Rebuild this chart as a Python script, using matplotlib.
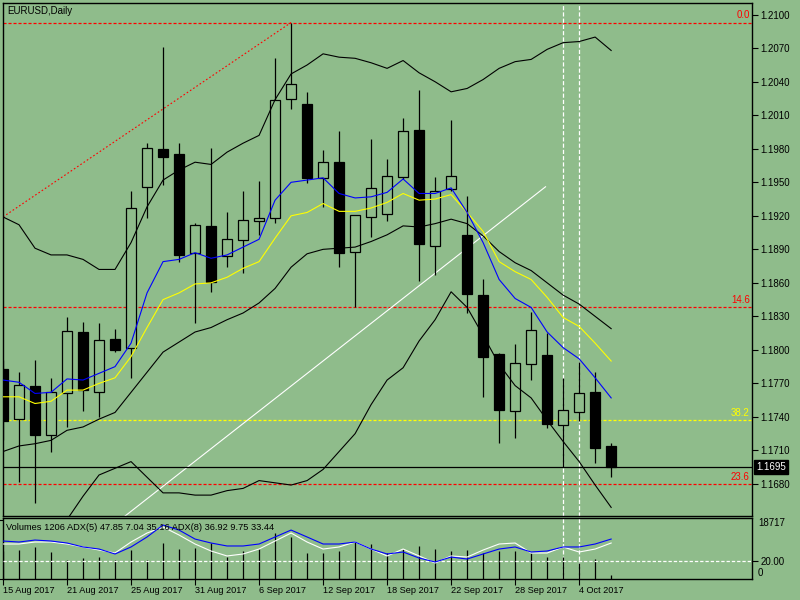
import numpy as np
import matplotlib
matplotlib.use("Agg")
import matplotlib.pyplot as plt
import matplotlib.transforms as mtransforms

plt.rcParams['font.family'] = ['Liberation Sans', 'DejaVu Sans']
plt.rcParams['lines.scale_dashes'] = False

# daily bars 15 Aug 2017 .. 6 Oct 2017
opens = [1.1783, 1.1738, 1.1768, 1.1724, 1.1761, 1.1816, 1.1762, 1.1810, 1.1802, 1.1946,
         1.1980, 1.1975, 1.1887, 1.1911, 1.1884, 1.1898, 1.1915, 1.1918, 1.2025, 1.2020,
         1.1954, 1.1968, 1.1888, 1.1919, 1.1922, 1.1955, 1.1997, 1.1893, 1.1944, 1.1903,
         1.1849, 1.1796, 1.1745, 1.1787, 1.1795, 1.1733, 1.1744, 1.1762, 1.1714]
highs = [1.1791, 1.1780, 1.1791, 1.1775, 1.1829, 1.1825, 1.1824, 1.1819, 1.1942, 1.1985,
         1.2071, 1.1985, 1.1914, 1.1981, 1.1923, 1.1942, 1.1951, 1.2061, 1.2093, 1.2031,
         1.1979, 1.1996, 1.1921, 1.1989, 1.1971, 1.2008, 1.2033, 1.1955, 1.2006, 1.1938,
         1.1863, 1.1797, 1.1805, 1.1834, 1.1815, 1.1775, 1.1789, 1.1780, 1.1717]
lows = [1.1719, 1.1682, 1.1663, 1.1709, 1.1731, 1.1745, 1.1740, 1.1798, 1.1775, 1.1918,
        1.1948, 1.1879, 1.1824, 1.1852, 1.1874, 1.1869, 1.1903, 1.1914, 1.2016, 1.1949,
        1.1928, 1.1874, 1.1838, 1.1901, 1.1915, 1.1953, 1.1862, 1.1867, 1.1942, 1.1833,
        1.1758, 1.1717, 1.1721, 1.1773, 1.1730, 1.1695, 1.1736, 1.1699, 1.1686]
closes = [1.1736, 1.1769, 1.1724, 1.1762, 1.1817, 1.1764, 1.1809, 1.1800, 1.1927, 1.1981,
          1.1973, 1.1885, 1.1912, 1.1861, 1.1899, 1.1916, 1.1918, 1.2024, 1.2038, 1.1954,
          1.1968, 1.1887, 1.1921, 1.1945, 1.1956, 1.1996, 1.1895, 1.1942, 1.1956, 1.1850,
          1.1794, 1.1746, 1.1788, 1.1818, 1.1734, 1.1746, 1.1761, 1.1712, 1.1695]

band_upper = [1.1919, 1.1912, 1.1891, 1.1885, 1.1885, 1.1881, 1.1872, 1.1872, 1.1896, 1.1928,
              1.1952, 1.1961, 1.1968, 1.1966, 1.1977, 1.1985, 1.1992, 1.2024, 1.2047, 1.2055,
              1.2065, 1.2062, 1.2061, 1.2057, 1.2052, 1.2059, 1.2048, 1.2040, 1.2031, 1.2034,
              1.2042, 1.2052, 1.2058, 1.2060, 1.2069, 1.2075, 1.2076, 1.2080, 1.2068]
band_mid = [1.1709, 1.1714, 1.1716, 1.1719, 1.1728, 1.1731, 1.1738, 1.1744, 1.1762, 1.1780,
            1.1798, 1.1807, 1.1816, 1.1820, 1.1827, 1.1833, 1.1842, 1.1855, 1.1874, 1.1886,
            1.1890, 1.1891, 1.1892, 1.1897, 1.1903, 1.1911, 1.1910, 1.1913, 1.1917, 1.1913,
            1.1902, 1.1888, 1.1878, 1.1871, 1.1860, 1.1849, 1.1841, 1.1830, 1.1819]
band_lower = [1.1625, 1.1630, 1.1634, 1.1641, 1.1648, 1.1669, 1.1688, 1.1694, 1.1700, 1.1686,
              1.1672, 1.1672, 1.1670, 1.1670, 1.1674, 1.1676, 1.1683, 1.1681, 1.1679, 1.1683,
              1.1693, 1.1709, 1.1725, 1.1751, 1.1773, 1.1784, 1.1808, 1.1827, 1.1852, 1.1838,
              1.1813, 1.1787, 1.1768, 1.1757, 1.1737, 1.1718, 1.1700, 1.1679, 1.1659]
ma_blue = [1.1773, 1.1771, 1.1761, 1.1762, 1.1774, 1.1773, 1.1779, 1.1785, 1.1806, 1.1851,
           1.1879, 1.1881, 1.1887, 1.1882, 1.1885, 1.1892, 1.1899, 1.1934, 1.1950, 1.1952,
           1.1954, 1.1940, 1.1936, 1.1937, 1.1941, 1.1953, 1.1940, 1.1940, 1.1945, 1.1923,
           1.1896, 1.1863, 1.1846, 1.1838, 1.1816, 1.1802, 1.1792, 1.1775, 1.1757]
ma_yellow = [1.1758, 1.1758, 1.1752, 1.1754, 1.1764, 1.1764, 1.1770, 1.1775, 1.1794, 1.1820,
             1.1845, 1.1851, 1.1859, 1.1860, 1.1865, 1.1873, 1.1879, 1.1900, 1.1920, 1.1923,
             1.1931, 1.1924, 1.1924, 1.1927, 1.1932, 1.1940, 1.1934, 1.1935, 1.1939, 1.1923,
             1.1906, 1.1879, 1.1870, 1.1863, 1.1847, 1.1829, 1.1821, 1.1806, 1.1790]

volumes = [9000, 9200, 10150, 8560, 6020, 6660, 6970, 6020, 9200, 6020,
           11410, 9510, 9830, 11410, 6970, 8880, 9510, 14580, 13310, 8240,
           8240, 8880, 11730, 11100, 8240, 9510, 10460, 9510, 8880, 9200,
           8240, 8880, 8880, 8240, 6970, 6970, 5070, 6340, 1206]
adx_blue = [42.2, 41.1, 43.3, 42.2, 40.0, 35.6, 33.3, 27.8, 35.6, 46.7,
            60.0, 54.4, 44.4, 40.0, 36.7, 36.7, 38.9, 46.7, 54.4, 46.7,
            38.9, 38.9, 41.1, 33.3, 27.8, 30.0, 23.3, 18.9, 24.4, 22.2,
            27.8, 33.3, 35.6, 30.0, 31.1, 35.6, 35.6, 38.9, 44.4]
adx_white = [38.9, 38.9, 41.1, 41.1, 38.9, 35.6, 32.2, 28.9, 41.1, 51.1,
             57.8, 48.9, 38.9, 31.1, 25.6, 27.8, 33.3, 42.2, 51.1, 41.1,
             33.3, 35.6, 41.1, 33.3, 25.6, 33.3, 25.6, 17.8, 25.6, 24.4,
             32.2, 38.9, 40.0, 28.9, 28.9, 35.6, 30.0, 33.3, 40.0]

date_labels = ["15 Aug 2017", "21 Aug 2017", "25 Aug 2017", "31 Aug 2017", "6 Sep 2017",
               "12 Sep 2017", "18 Sep 2017", "22 Sep 2017", "28 Sep 2017", "4 Oct 2017"]
date_bars = [0, 4, 8, 12, 16, 20, 24, 28, 32, 36]

fib_levels = [1.2093, 1.1838, 1.1737, 1.1680]
fib_names = ["0.0", "14.6", "38.2", "23.6"]
fib_colors = ["red", "red", "yellow", "red"]
fib_trend_x = [0, 18]
fib_trend_y = [1.1919, 1.2093]
trend_x = [7.6, 33.9]
trend_y = [1.1651, 1.1946]
vlines_bars = [35, 36]
last_price = 1.1695

bg = "#8FBC8B"
bars = np.arange(len(closes))

fig = plt.figure(figsize=(8, 6), dpi=100, facecolor=bg)
ax = fig.add_axes([3 / 800, 1 - 516 / 600, 749 / 800, 513 / 600], facecolor=bg)
ax2 = fig.add_axes([3 / 800, 1 - 579 / 600, 749 / 800, 61 / 600], facecolor=bg)

# candles
ax.vlines(bars, lows, highs, color="black", lw=0.9, zorder=2)
for k in bars:
    o, c = opens[k], closes[k]
    bull = c >= o
    ax.bar(k, max(abs(c - o), 0.00003), bottom=min(o, c), width=0.62,
           facecolor=bg if bull else "black", edgecolor="black", lw=0.9, zorder=3)

# indicator lines
ax.plot(bars, band_upper, color="black", lw=0.8, zorder=4)
ax.plot(bars, band_mid, color="black", lw=0.8, zorder=4)
ax.plot(bars, band_lower, color="black", lw=0.8, zorder=4)
ax.plot(bars, ma_yellow, color="yellow", lw=0.8, zorder=4)
ax.plot(bars, ma_blue, color="blue", lw=0.8, zorder=4)

# objects
for lev, name, col in zip(fib_levels, fib_names, fib_colors):
    ax.axhline(lev, color=col, lw=0.9, ls=(0, (2.2, 1.4)), zorder=1)
    ax.text(0.997, lev + 0.0002, name, color=col, fontsize=7, ha="right", va="bottom",
            transform=mtransforms.blended_transform_factory(ax.transAxes, ax.transData))
ax.plot(fib_trend_x, fib_trend_y, color="red", lw=0.8, ls=(0, (1.2, 1.6)), zorder=1)
ax.plot(trend_x, trend_y, color="white", lw=0.8, zorder=1)
ax.axhline(last_price, color="black", lw=0.9, zorder=1)
for b in vlines_bars:
    ax.axvline(b, color="white", lw=0.9, ls=(0, (3, 1.5)), zorder=1)
    ax2.axvline(b, color="white", lw=0.9, ls=(0, (3, 1.5)), zorder=1)

ax.set_xlim(0, 46.8)
ax.set_ylim(1.16513, 1.21105)
ax.set_xticks([])
ax.yaxis.tick_right()
ticks = np.round(np.arange(1.1680, 1.21001, 0.003), 4)
ax.set_yticks(ticks)
ax.set_yticklabels(["%.4f" % t for t in ticks])
ax.tick_params(axis="y", direction="out", length=4, width=0.8, pad=2, labelsize=7, colors="black")
for s in ax.spines.values():
    s.set_color("black")
    s.set_linewidth(1.0)

ax.text(1.006, last_price, "%.4f" % last_price, color="white", fontsize=7, va="center", ha="left",
        transform=mtransforms.blended_transform_factory(ax.transAxes, ax.transData),
        bbox=dict(facecolor="black", edgecolor="black", pad=1.5))
fig.text(7 / 800, 1 - 11 / 600, "EURUSD,Daily", fontsize=7, ha="left", va="center")

# volumes + ADX sub window
ax2.vlines(bars, 0, volumes, color="black", lw=0.9, zorder=2)
ax2.set_xlim(0, 46.8)
ax2.set_ylim(0, 19350)
ax2.yaxis.tick_right()
ax2.set_yticks([0, 18717])
ax2.set_yticklabels(["", ""])
ax2.tick_params(axis="y", direction="out", length=4, width=0.8)
ax2.set_xticks(date_bars)
ax2.set_xticklabels(date_labels)
ax2.tick_params(axis="x", direction="out", length=4, width=0.8, pad=0.8, labelsize=6.6)
for lab in ax2.get_xticklabels():
    lab.set_horizontalalignment("left")
for s in ax2.spines.values():
    s.set_color("black")
    s.set_linewidth(1.0)

ax3 = ax2.twinx()
ax3.set_ylim(0, 67.8)
ax3.plot(bars, adx_white, color="white", lw=0.8, zorder=3)
ax3.plot(bars, adx_blue, color="blue", lw=0.8, zorder=4)
ax3.axhline(20, color="white", lw=0.9, ls=(0, (2.4, 1.4)), zorder=1)
ax3.set_yticks([20])
ax3.set_yticklabels(["20.00"])
ax3.tick_params(axis="y", direction="out", length=4, width=0.8, pad=2, labelsize=7)
for s in ax3.spines.values():
    s.set_visible(False)

fig.text(758 / 800, 1 - 523 / 600, "18717", fontsize=7, ha="left", va="center")
fig.text(758 / 800, 1 - 573 / 600, "0", fontsize=7, ha="left", va="center")
fig.text(6 / 800, 1 - 527 / 600,
         "Volumes 1206 ADX(5) 47.85 7.04 35.16 ADX(8) 36.92 9.75 33.44",
         fontsize=6.7, ha="left", va="center", zorder=0)

fig.savefig("out.png", dpi=100, facecolor=bg)
